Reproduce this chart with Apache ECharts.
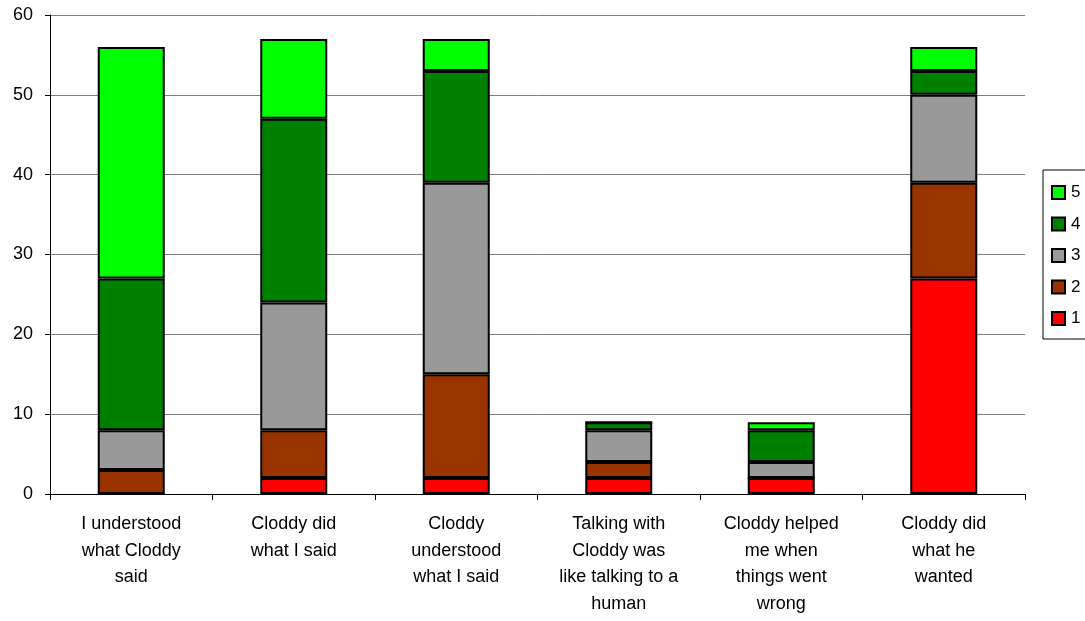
<!DOCTYPE html>
<html>
<head>
<meta charset="utf-8">
<script src="https://cdn.jsdelivr.net/npm/echarts@6/dist/echarts.min.js"></script>
<style>
  html, body { margin: 0; padding: 0; background: #fff; }
  #chart { width: 1085px; height: 621px; }
</style>
</head>
<body>
<div id="chart"></div>
<script>
// questions (x axis)
var categories = [
  'I understood\nwhat Cloddy\nsaid',
  'Cloddy did\nwhat I said',
  'Cloddy\nunderstood\nwhat I said',
  'Talking with\nCloddy was\nlike talking to a\nhuman',
  'Cloddy helped\nme when\nthings went\nwrong',
  'Cloddy did\nwhat he\nwanted'
];

// counts per rating
var rating1 = [0, 2, 2, 2, 2, 27];
var rating2 = [3, 6, 13, 2, 0, 12];
var rating3 = [5, 16, 24, 4, 2, 11];
var rating4 = [19, 23, 14, 1, 4, 3];
var rating5 = [29, 10, 4, 0, 1, 3];

var yTicks = [0, 10, 20, 30, 40, 50, 60];

var font = 'Liberation Sans, Arial, sans-serif';

function bar(name, data, color) {
  return {
    name: name,
    type: 'bar',
    stack: 'total',
    barWidth: 67,
    data: data,
    itemStyle: { color: color, borderColor: '#000', borderWidth: 2 }
  };
}

var chart = echarts.init(document.getElementById('chart'));
chart.setOption({
  animation: false,
  textStyle: { fontFamily: font, color: '#000' },
  grid: { left: 50, right: 60, top: 15, bottom: 127 },
  legend: {
    orient: 'vertical',
    left: 1043,
    top: 170,
    data: ['5', '4', '3', '2', '1'],
    icon: 'rect',
    itemWidth: 13,
    itemHeight: 13,
    itemGap: 14.5,
    padding: [14, 8, 12, 8],
    borderColor: '#000',
    borderWidth: 1,
    textStyle: { fontSize: 17, color: '#000', fontFamily: font, padding: [0, 0, 0, 1] }
  },
  xAxis: {
    type: 'category',
    data: categories,
    axisLine: { lineStyle: { color: '#000', width: 1 } },
    axisTick: { show: true, length: 6, alignWithLabel: false, lineStyle: { color: '#000' } },
    axisLabel: {
      interval: 0,
      fontSize: 18,
      lineHeight: 26.5,
      margin: 17,
      color: '#000',
      fontFamily: font
    }
  },
  yAxis: {
    type: 'value',
    min: yTicks[0],
    max: yTicks[yTicks.length - 1],
    interval: 10,
    axisLine: { show: true, lineStyle: { color: '#000', width: 1 } },
    axisTick: { show: true, length: 5, lineStyle: { color: '#000' } },
    axisLabel: { fontSize: 18, margin: 17, color: '#000', fontFamily: font },
    splitLine: { lineStyle: { color: '#808080', width: 1 } }
  },
  series: [
    bar('1', rating1, '#FF0000'),
    bar('2', rating2, '#993300'),
    bar('3', rating3, '#999999'),
    bar('4', rating4, '#008000'),
    bar('5', rating5, '#00FF00')
  ]
});
</script>
</body>
</html>
